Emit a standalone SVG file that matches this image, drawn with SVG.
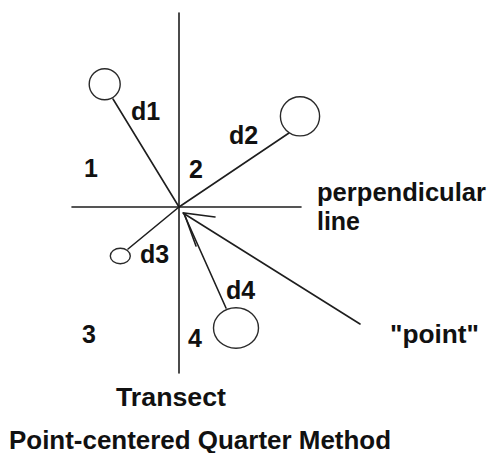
<svg xmlns="http://www.w3.org/2000/svg" width="494" height="453" viewBox="0 0 494 453">
<style>
.ln{stroke:#1e1e1e;stroke-width:1.6;fill:none;stroke-linecap:round}
.tree{stroke:#2a2a2a;stroke-width:1.4;fill:#fff}
.t{font-family:"Liberation Sans",Arial,sans-serif;font-weight:bold;fill:#111}
.lbl{font-size:25px}
.big{font-size:25.5px}
</style>
<rect width="494" height="453" fill="#fff"/>
<g id="connectors">
<line class="ln" x1="179" y1="13" x2="179" y2="373"/>
<line class="ln" x1="72" y1="207" x2="301" y2="207"/>
<line class="ln" x1="113" y1="99" x2="179" y2="207"/>
<line class="ln" x1="289" y1="133" x2="179" y2="207"/>
<line class="ln" x1="128" y1="249" x2="179" y2="207"/>
<line class="ln" x1="184" y1="214" x2="226" y2="308"/>
<line class="ln" x1="183" y1="213" x2="360" y2="324"/>
<polyline class="ln" points="215,217 184,213 196,246"/>
</g>
<g id="tree1"><circle class="tree" cx="104.7" cy="84.2" r="15.5"/></g>
<g id="tree2"><circle class="tree" cx="300" cy="116.3" r="19.6"/></g>
<g id="tree3"><ellipse class="tree" cx="120.3" cy="256" rx="10" ry="7.8"/></g>
<g id="tree4"><ellipse class="tree" cx="236" cy="328" rx="22.5" ry="20.2"/></g>
<g id="labels">
<text class="t lbl" x="131" y="120">d1</text>
<text class="t lbl" x="229" y="144">d2</text>
<text class="t lbl" x="140" y="263">d3</text>
<text class="t lbl" x="226" y="299">d4</text>
<text class="t lbl" x="84" y="177">1</text>
<text class="t lbl" x="189" y="178">2</text>
<text class="t lbl" x="82" y="343">3</text>
<text class="t lbl" x="188" y="347">4</text>
<text class="t big" x="317" y="201" textLength="169" lengthAdjust="spacingAndGlyphs">perpendicular</text>
<text class="t big" x="317" y="230" textLength="43" lengthAdjust="spacingAndGlyphs">line</text>
<text class="t big" x="390" y="343" textLength="89" lengthAdjust="spacingAndGlyphs">"point"</text>
<text class="t big" x="116" y="406" textLength="110" lengthAdjust="spacingAndGlyphs">Transect</text>
<text class="t big" x="9" y="449" textLength="382" lengthAdjust="spacingAndGlyphs">Point-centered Quarter Method</text>
</g>
</svg>
